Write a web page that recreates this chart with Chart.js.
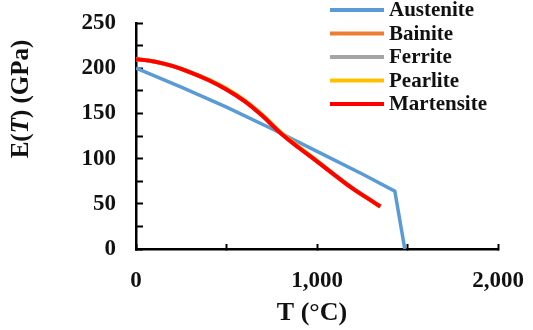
<!DOCTYPE html>
<html>
<head>
<meta charset="utf-8">
<script src="https://cdn.jsdelivr.net/npm/chart.js@4.4.0/dist/chart.umd.min.js"></script>
<style>
    html, body { margin: 0; padding: 0; background: #fff; }
</style>
</head>
<body>
<canvas id="modulusChart" width="533" height="330"></canvas>
<script>
// Young's modulus vs temperature for each steel phase
const phaseNames = ['Austenite', 'Bainite', 'Ferrite', 'Pearlite', 'Martensite'];
const phaseColors = ['#5B9BD5', '#ED7D31', '#A5A5A5', '#FFC000', '#FF0000'];

const austeniteT = [0, 250, 500, 750, 1000, 1250, 1430, 1485];
const austeniteE = [200, 179, 157, 133, 108, 83, 64, 0];

// bainite, ferrite, pearlite and martensite share the same temperature points
const phaseT = [0, 100, 200, 300, 400, 500, 600, 700, 800, 900, 1000, 1100, 1200, 1300, 1350];
const bainiteE = [210, 207.5, 202.5, 195.5, 187, 176.5, 163.5, 147, 128, 112, 97, 81.5, 66.5, 53.5, 47];
const ferriteE = [210, 207.5, 202.5, 195.5, 187, 176.5, 163.5, 147, 128, 112, 97, 81.5, 66.5, 53.5, 47];
const pearliteE = [210, 207.5, 202.5, 195.5, 187.3, 177.3, 164.5, 148, 129, 113, 97.5, 81.5, 66.5, 53.5, 47];
const martensiteE = [210, 207.5, 202.5, 195.5, 187, 176.5, 163.5, 147, 128, 112, 97, 81.5, 66.5, 53.5, 47];

const xTickValues = [0, 500, 1000, 1500, 2000];
const yTickStep = 25;
const yLabelStep = 50;

const FONT = '"Liberation Serif", "Times New Roman", serif';

function toPoints(xs, ys) {
    return xs.map((x, i) => ({ x: x, y: ys[i] }));
}

function makeDataset(idx, xs, ys, smooth) {
    return {
        label: phaseNames[idx],
        data: toPoints(xs, ys),
        borderColor: phaseColors[idx],
        backgroundColor: phaseColors[idx],
        borderWidth: idx === 0 ? 3.5 : 4,
        pointRadius: 0,
        tension: smooth ? 0.4 : 0,
        order: 5 - idx
    };
}

// legend drawn as line samples in the top right corner
const legendPlugin = {
    id: 'lineLegend',
    afterDraw(chart) {
        const ctx = chart.ctx;
        ctx.save();
        ctx.font = 'bold 21px ' + FONT;
        ctx.textBaseline = 'middle';
        ctx.fillStyle = '#111';
        chart.data.datasets.forEach((ds, i) => {
            const y = 10 + i * 23.5;
            ctx.strokeStyle = ds.borderColor;
            ctx.lineWidth = 4;
            ctx.beginPath();
            ctx.moveTo(330, y);
            ctx.lineTo(384, y);
            ctx.stroke();
            ctx.fillText(ds.label, 389, y + 1);
        });
        ctx.restore();
    }
};

// axis titles; the T in E(T) is italic
const axisTitlePlugin = {
    id: 'axisTitles',
    afterDraw(chart) {
        const ctx = chart.ctx;
        ctx.save();
        ctx.fillStyle = '#111';
        ctx.textBaseline = 'middle';

        const parts = [
            ['E(', 'bold 25px ' + FONT],
            ['T', 'italic bold 25px ' + FONT],
            [') (GPa)', 'bold 25px ' + FONT]
        ];
        let total = 0;
        parts.forEach(p => { ctx.font = p[1]; total += ctx.measureText(p[0]).width; });
        ctx.translate(22, 99);
        ctx.rotate(-Math.PI / 2);
        let x = -total / 2;
        ctx.textAlign = 'left';
        parts.forEach(p => {
            ctx.font = p[1];
            ctx.fillText(p[0], x, 0);
            x += ctx.measureText(p[0]).width;
        });
        ctx.restore();

        ctx.save();
        ctx.fillStyle = '#111';
        ctx.font = 'bold 26px ' + FONT;
        ctx.textAlign = 'center';
        ctx.textBaseline = 'middle';
        ctx.fillText('T (°C)', 312, 313);
        ctx.restore();
    }
};

const ctx = document.getElementById('modulusChart').getContext('2d');

new Chart(ctx, {
    type: 'line',
    data: {
        datasets: [
            makeDataset(0, austeniteT, austeniteE, false),
            makeDataset(1, phaseT, bainiteE, true),
            makeDataset(2, phaseT, ferriteE, true),
            makeDataset(3, phaseT, pearliteE, true),
            makeDataset(4, phaseT, martensiteE, true)
        ]
    },
    options: {
        responsive: false,
        animation: false,
        layout: {
            padding: { left: 0, right: 35, top: 23, bottom: 0 }
        },
        plugins: {
            legend: { display: false },
            tooltip: { enabled: false }
        },
        scales: {
            x: {
                type: 'linear',
                min: 0,
                max: 2000,
                afterFit: (scale) => {
                    scale.height = 81;
                    scale.paddingLeft = 0;
                    scale.paddingRight = 0;
                },
                afterBuildTicks: (scale) => {
                    scale.ticks = xTickValues.map(v => ({ value: v }));
                },
                ticks: {
                    autoSkip: false,
                    maxRotation: 0,
                    padding: 23,
                    color: '#111',
                    font: { family: FONT, size: 23, weight: 'bold' },
                    callback: (v) => v % 1000 === 0 ? v.toLocaleString('en-US') : ''
                },
                grid: {
                    drawOnChartArea: false,
                    drawTicks: true,
                    tickLength: -5,
                    tickWidth: 2,
                    color: '#000'
                },
                border: { display: true, color: '#000', width: 2.5 }
            },
            y: {
                min: 0,
                max: 250,
                afterFit: (scale) => {
                    scale.width = 136;
                    scale.paddingTop = 0;
                    scale.paddingBottom = 0;
                },
                ticks: {
                    stepSize: yTickStep,
                    autoSkip: false,
                    padding: 27,
                    color: '#111',
                    font: { family: FONT, size: 23, weight: 'bold' },
                    callback: (v) => v % yLabelStep === 0 ? v : ''
                },
                grid: {
                    drawOnChartArea: false,
                    drawTicks: true,
                    tickLength: -7,
                    tickWidth: 2,
                    color: '#000'
                },
                border: { display: true, color: '#000', width: 2.5 }
            }
        }
    },
    plugins: [legendPlugin, axisTitlePlugin]
});
</script>
</body>
</html>
